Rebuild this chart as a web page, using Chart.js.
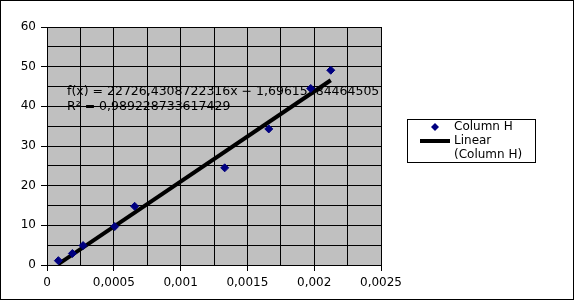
<!DOCTYPE html>
<html>
<head>
<meta charset="utf-8">
<script src="https://cdn.jsdelivr.net/npm/chart.js@4"></script>
<style>
    body { margin: 0; background: #fff; }
    canvas { display: block; }
</style>
</head>
<body>
<canvas id="scatterChart" width="574" height="300"></canvas>
<script>
// values
const xValues = [0.000085, 0.00019, 0.00027, 0.000507, 0.000656, 0.00133, 0.00166, 0.001974, 0.002124];
const yValues = [1.1, 2.9, 4.9, 9.7, 14.8, 24.5, 34.3, 44.5, 49.1];

// regression given in the chart label
const trendSlope = 22726.4308722316;
const trendIntercept = -1.69615384464505;
const trendLabel = ['f(x) = 22726,4308722316x − 1,69615384464505', 'R² = 0,989228733617429'];

const seriesLabel = 'Column H';
const trendLegend = ['Linear', '(Column H)'];

const xTicks = { min: 0, max: 0.0025, grid: 0.00025 };
const yTicks = { min: 0, max: 60, grid: 5 };

Chart.defaults.font.family = 'DejaVu Sans';
Chart.defaults.font.size = 12;
Chart.defaults.color = '#000';

function decimalComma(v) {
    return Number(v.toFixed(6)).toString().replace('.', ',');
}

const xMin = Math.min(...xValues);
const xMax = Math.max(...xValues);

const frame = {
    id: 'frame',
    beforeDraw(chart) {
        const c = chart.ctx;
        const a = chart.chartArea;
        c.save();
        c.fillStyle = '#fff';
        c.fillRect(0, 0, chart.width, chart.height);
        c.fillStyle = '#c0c0c0';
        c.fillRect(a.left, a.top, a.right - a.left, a.bottom - a.top);
        c.restore();
    },
    beforeDatasetsDraw(chart) {
        const c = chart.ctx;
        c.save();
        c.fillStyle = '#000';
        c.font = '12.5px "DejaVu Sans"';
        c.textBaseline = 'middle';
        c.fillText(trendLabel[0], 67, 92);
        c.fillText(trendLabel[1], 67, 107);
        c.restore();
    },
    afterDraw(chart) {
        const c = chart.ctx;
        c.save();
        // legend box
        c.fillStyle = '#fff';
        c.fillRect(407, 119, 128, 43);
        c.strokeStyle = '#000';
        c.lineWidth = 1;
        c.strokeRect(407.5, 119.5, 128, 43);

        const pts = chart.data.datasets[0];
        c.fillStyle = pts.backgroundColor;
        c.beginPath();
        c.moveTo(435, 123);
        c.lineTo(439, 127);
        c.lineTo(435, 131);
        c.lineTo(431, 127);
        c.closePath();
        c.fill();

        c.strokeStyle = '#000';
        c.lineWidth = 4;
        c.beginPath();
        c.moveTo(420, 141);
        c.lineTo(450, 141);
        c.stroke();

        c.fillStyle = '#000';
        c.font = '12px "DejaVu Sans"';
        c.textBaseline = 'middle';
        c.fillText(seriesLabel, 454, 127);
        c.fillText(trendLegend[0], 454, 141);
        c.fillText(trendLegend[1], 454, 155);

        // outer border
        c.lineWidth = 1;
        c.strokeRect(0.5, 0.5, chart.width - 1, chart.height - 1);
        c.restore();
    }
};

new Chart(document.getElementById('scatterChart'), {
    type: 'scatter',
    data: {
        datasets: [{
            label: seriesLabel,
            data: xValues.map((x, i) => ({ x: x, y: yValues[i] })),
            pointStyle: 'rectRot',
            pointRadius: 4,
            backgroundColor: '#000080',
            borderColor: '#000080',
            borderWidth: 1,
            order: 1
        }, {
            label: trendLegend.join(' '),
            type: 'line',
            data: [
                { x: xMin, y: trendSlope * xMin + trendIntercept },
                { x: xMax, y: trendSlope * xMax + trendIntercept }
            ],
            borderColor: '#000',
            borderWidth: 4,
            pointRadius: 0,
            fill: false,
            order: 2
        }]
    },
    options: {
        responsive: false,
        animation: false,
        layout: { padding: { left: 0, top: 27, right: 193, bottom: 0 } },
        scales: {
            x: {
                type: 'linear',
                min: xTicks.min,
                max: xTicks.max,
                afterFit: s => { s.height = 35; },
                grid: {
                    color: '#000',
                    tickLength: 6,
                    tickColor: ctx => (ctx.index % 2 === 0 ? '#000' : 'rgba(0,0,0,0)')
                },
                border: { color: '#000' },
                ticks: {
                    stepSize: xTicks.grid,
                    autoSkip: false,
                    maxRotation: 0,
                    padding: 5,
                    callback: (v, i) => (i % 2 === 0 ? decimalComma(v) : '')
                }
            },
            y: {
                min: yTicks.min,
                max: yTicks.max,
                afterFit: s => { s.width = 47; },
                grid: {
                    color: '#000',
                    tickLength: 6,
                    tickColor: ctx => (ctx.index % 2 === 0 ? '#000' : 'rgba(0,0,0,0)')
                },
                border: { color: '#000' },
                ticks: {
                    stepSize: yTicks.grid,
                    autoSkip: false,
                    padding: 5,
                    callback: (v, i) => (i % 2 === 0 ? decimalComma(v) : '')
                }
            }
        },
        plugins: {
            legend: { display: false },
            tooltip: { enabled: false }
        }
    },
    plugins: [frame]
});
</script>
</body>
</html>
